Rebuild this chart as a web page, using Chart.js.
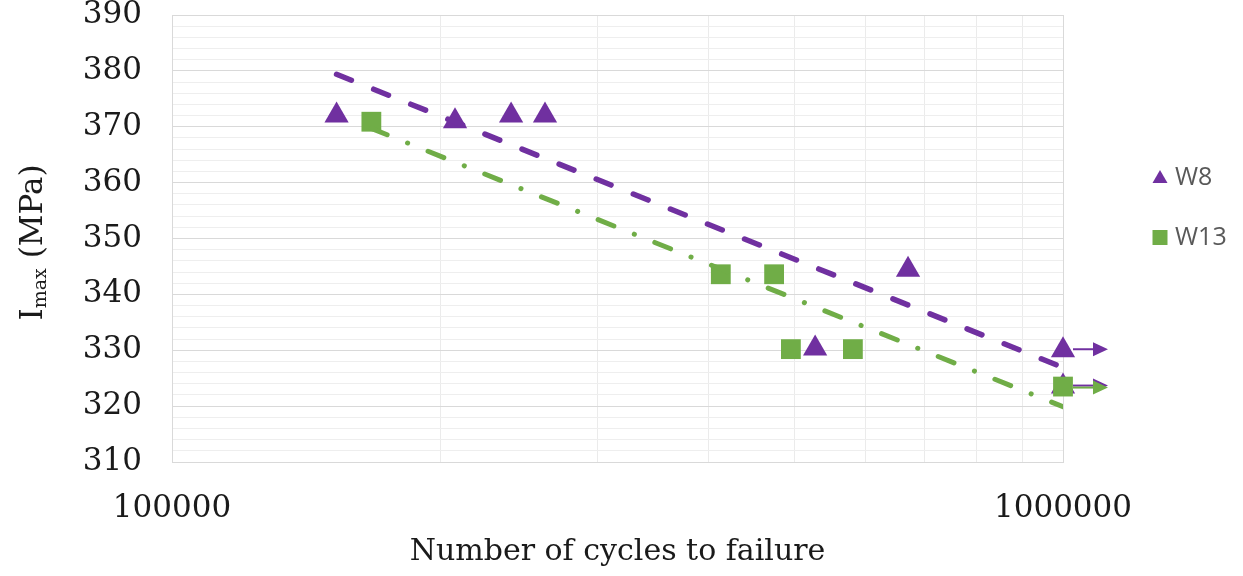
<!DOCTYPE html>
<html>
<head>
<meta charset="utf-8">
<title>Imax vs number of cycles to failure</title>
<script src="https://cdn.jsdelivr.net/npm/chart.js@4.4.1/dist/chart.umd.min.js"></script>
<style>
  html, body { margin: 0; padding: 0; background: #fff; }
  #wrap { width: 1243px; height: 576px; position: relative; }
</style>
</head>
<body>
<div id="wrap"><canvas id="snChart"></canvas></div>
<script>
// --- data
const w8Cycles = [153000, 207800, 240200, 262200, 527000, 670000, 1000000, 1000000];
const w8Stress = [372, 371, 372, 372, 330.3, 344.4, 330, 323.5];
const w8Runout = [false, false, false, false, false, false, true, true];

const w13Cycles = [167400, 413000, 474000, 495000, 581000, 1000000];
const w13Stress = [370.9, 343.6, 343.6, 330.2, 330.2, 323.5];
const w13Runout = [false, false, false, false, false, true];

// trend lines (log fit) as drawn, start/end
const w8TrendCycles = [153000, 1000000];
const w8TrendStress = [379.4, 326.9];
const w13TrendCycles = [167400, 1000000];
const w13TrendStress = [369.7, 319.9];

// axis labels
const xTickLabels = [100000, 1000000];
const yTickLabels = [310, 320, 330, 340, 350, 360, 370, 380, 390];

// --- styles
const PURPLE = '#7030A0';
const GREEN = '#70AD47';
const SERIF = '"DejaVu Serif", "Liberation Serif", serif';

function toPoints(xs, ys) { return xs.map((x, i) => ({ x: x, y: ys[i] })); }

// log ticks only at 1,2,...,9 x 10^n (like Excel minor gridlines)
function wholeMantissa(v) {
  const m = v / Math.pow(10, Math.floor(Math.log10(v) + 1e-9));
  return Math.abs(m - Math.round(m)) < 1e-6;
}

// --- runout arrows, drawn to the right of the flagged points
const runoutArrows = {
  id: 'runoutArrows',
  afterDatasetsDraw(chart) {
    const ctx = chart.ctx;
    chart.data.datasets.forEach((ds, di) => {
      if (!ds.runout) return;
      const meta = chart.getDatasetMeta(di);
      ds.runout.forEach((flag, i) => {
        if (!flag) return;
        const p = meta.data[i];
        const y = p.y + (ds.arrowDy || 0);
        const x0 = p.x + 10, x1 = p.x + 30, x2 = p.x + 45;
        ctx.save();
        ctx.strokeStyle = ds.backgroundColor;
        ctx.fillStyle = ds.backgroundColor;
        ctx.lineWidth = 2;
        ctx.beginPath();
        ctx.moveTo(x0, y);
        ctx.lineTo(x1 + 2, y);
        ctx.stroke();
        ctx.beginPath();
        ctx.moveTo(x1, y - 7);
        ctx.lineTo(x2, y);
        ctx.lineTo(x1, y + 7);
        ctx.closePath();
        ctx.fill();
        ctx.restore();
      });
    });
  }
};

// --- y title with subscript
const yTitle = {
  id: 'yTitle',
  afterDraw(chart) {
    const ctx = chart.ctx;
    const area = chart.chartArea;
    const big = '31px ' + SERIF, small = '19px ' + SERIF;
    ctx.save();
    ctx.font = big; const wI = ctx.measureText('I').width; const wRest = ctx.measureText(' (MPa)').width;
    ctx.font = small; const wSub = ctx.measureText('max').width;
    const total = wI + wSub + wRest;
    ctx.translate(42, (area.top + area.bottom) / 2 + 4);
    ctx.rotate(-Math.PI / 2);
    ctx.fillStyle = '#1a1a1a';
    ctx.textBaseline = 'alphabetic';
    ctx.textAlign = 'left';
    let x = -total / 2;
    ctx.font = big; ctx.fillText('I', x, 0); x += wI;
    ctx.font = small; ctx.fillText('max', x, 4); x += wSub;
    ctx.font = big; ctx.fillText(' (MPa)', x, 0);
    ctx.restore();
  }
};

// --- legend on the right
const sideLegend = {
  id: 'sideLegend',
  afterDraw(chart) {
    const ctx = chart.ctx;
    const items = chart.data.datasets.filter(ds => ds.inLegend);
    ctx.save();
    ctx.font = '25px "Open Sans", sans-serif';
    ctx.textBaseline = 'middle';
    items.forEach((ds, i) => {
      const cx = 1160, cy = 177 + i * 60;
      ctx.fillStyle = ds.backgroundColor;
      ctx.beginPath();
      if (ds.pointStyle === 'triangle') {
        ctx.moveTo(cx, cy - 7);
        ctx.lineTo(cx + 7.5, cy + 6);
        ctx.lineTo(cx - 7.5, cy + 6);
        ctx.closePath();
      } else {
        ctx.rect(cx - 7.5, cy - 7, 15, 15);
      }
      ctx.fill();
      ctx.fillStyle = '#595959';
      ctx.fillText(ds.label, 1175, cy + 1);
    });
    ctx.restore();
  }
};

const ctx = document.getElementById('snChart').getContext('2d');
new Chart(ctx, {
  type: 'scatter',
  data: {
    datasets: [
      {
        label: 'W8 trend', data: toPoints(w8TrendCycles, w8TrendStress),
        showLine: true, pointRadius: 0, borderColor: PURPLE, borderWidth: 5.5,
        borderDash: [16, 24], borderCapStyle: 'round', order: 0
      },
      {
        label: 'W13 trend', data: toPoints(w13TrendCycles, w13TrendStress),
        showLine: true, pointRadius: 0, borderColor: GREEN, borderWidth: 5,
        borderDash: [17, 22, 0.1, 22], borderCapStyle: 'round', order: 0
      },
      {
        label: 'W8', data: toPoints(w8Cycles, w8Stress), inLegend: true,
        pointStyle: 'triangle', pointRadius: 14, pointBorderWidth: 0,
        backgroundColor: PURPLE, borderColor: PURPLE, runout: w8Runout, arrowDy: -1,
        clip: false, order: 2
      },
      {
        label: 'W13', data: toPoints(w13Cycles, w13Stress), inLegend: true,
        pointStyle: 'rect', pointRadius: 14, pointBorderWidth: 0,
        backgroundColor: GREEN, borderColor: GREEN, runout: w13Runout, arrowDy: 1,
        clip: false, order: 1
      }
    ]
  },
  options: {
    responsive: true,
    maintainAspectRatio: false,
    animation: false,
    layout: { padding: { top: 15, right: 180, left: 0, bottom: 0 } },
    plugins: {
      legend: { display: false },
      tooltip: { enabled: false }
    },
    scales: {
      x: {
        type: 'logarithmic',
        min: 100000,
        max: 1000000,
        afterBuildTicks: s => { s.ticks = s.ticks.filter(t => wholeMantissa(t.value)); },
        afterFit: s => { s.height = 114; },
        border: { color: '#d9d9d9' },
        grid: {
          drawTicks: false,
          color: c => xTickLabels.includes(c.tick.value) ? '#d9d9d9' : '#ebebeb'
        },
        ticks: {
          autoSkip: false,
          maxRotation: 0,
          padding: 28,
          color: '#1a1a1a',
          font: { family: SERIF, size: 31, lineHeight: 1.2 },
          callback: v => xTickLabels.includes(v) ? String(v) : ''
        },
        title: {
          display: true,
          text: 'Number of cycles to failure',
          color: '#1a1a1a',
          font: { family: SERIF, size: 30, lineHeight: 1.2 },
          padding: { top: 0, bottom: 6 }
        }
      },
      y: {
        min: 310,
        max: 390,
        // keep the plot top at the layout padding, not pushed down by tick padding
        afterFit: s => { s.width = 172; s.paddingTop = 0; s.paddingBottom = 0; },
        border: { color: '#d9d9d9' },
        grid: {
          drawTicks: false,
          color: c => yTickLabels.includes(c.tick.value) ? '#d9d9d9' : '#eeeeee'
        },
        ticks: {
          stepSize: 2,
          autoSkip: false,
          padding: 30,
          color: '#1a1a1a',
          font: { family: SERIF, size: 31, lineHeight: 1 },
          callback: v => yTickLabels.includes(v) ? String(v) : ''
        }
      }
    }
  },
  plugins: [runoutArrows, yTitle, sideLegend]
});
</script>
</body>
</html>
